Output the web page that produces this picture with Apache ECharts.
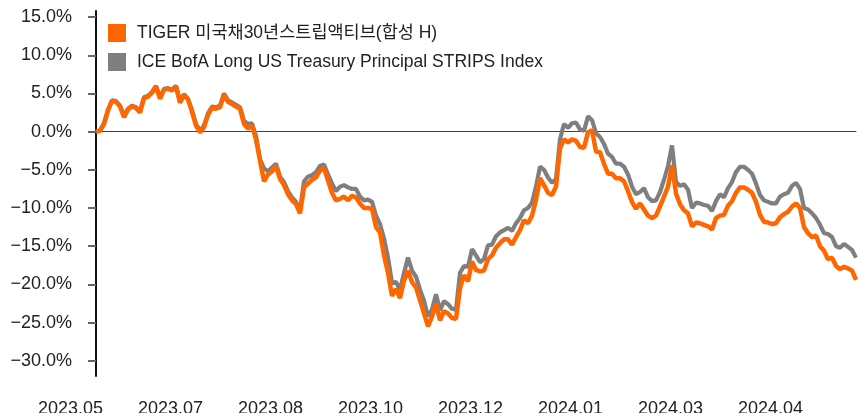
<!DOCTYPE html>
<html><head><meta charset="utf-8">
<script src="https://cdn.jsdelivr.net/npm/echarts@6/dist/echarts.min.js"></script>
<style>html,body{margin:0;padding:0;background:#fff}#c{width:858px;height:413px}</style>
</head><body><div id="c"></div>
<script>
const seriesNames = ['TIGER 미국채30년스트립액티브(합성 H)', 'ICE BofA Long US Treasury Principal STRIPS Index'];
const xTickLabels = ['2023.05','2023.07','2023.08','2023.10','2023.12','2024.01','2024.03','2024.04'];
const yTicks = [-30,-25,-20,-15,-10,-5,0,5,10,15];
const tiger = [0,0.1,1.0,2.8,4.0,3.9,3.3,1.9,2.9,3.3,
3.1,2.5,4.4,4.6,5.1,5.9,4.3,5.5,5.6,5.4,
5.9,3.8,4.8,4.2,2.6,0.8,-0.1,0.6,2.2,3.1,
3.0,3.2,4.8,3.9,3.6,3.3,3.0,1.0,0.4,0.8,
-1.0,-3.8,-6.5,-5.6,-5.2,-4.5,-6.2,-7.0,-8.2,-9.0,
-9.5,-10.7,-7.3,-6.8,-6.3,-6.0,-5.1,-4.8,-6.4,-8.0,
-9.0,-8.8,-8.5,-9.0,-8.4,-8.6,-9.4,-10.0,-10.0,-10.1,
-12.5,-13.2,-16.2,-18.5,-21.5,-20.6,-21.8,-19.5,-18.2,-19.7,
-20.4,-22.1,-23.8,-25.5,-24.2,-22.5,-24.7,-23.5,-23.8,-24.4,
-24.5,-20.5,-18.8,-19.6,-17.0,-18.1,-18.3,-18.2,-16.7,-16.2,
-15.2,-14.6,-14.1,-14.1,-14.8,-13.8,-12.9,-11.6,-12.0,-11.0,
-8.9,-6.1,-7.0,-8.0,-8.3,-7.2,-2.2,-1.0,-1.4,-1.0,
-1.2,-2.0,-2.1,-0.1,0.2,-2.6,-2.7,-4.2,-5.5,-5.5,
-6.1,-6.1,-6.5,-7.8,-9.2,-10.1,-9.4,-10.2,-11.0,-11.3,
-11.0,-9.8,-8.5,-7.2,-4.4,-8.1,-9.5,-10.3,-10.7,-12.4,
-11.9,-12.0,-12.2,-12.4,-12.8,-11.3,-11.0,-10.9,-9.7,-9.1,
-8.0,-7.3,-7.3,-7.6,-8.0,-9.2,-10.9,-11.8,-11.9,-12.1,
-12.0,-11.2,-10.8,-10.5,-9.8,-9.4,-10.0,-12.5,-13.3,-13.8,
-13.6,-15.0,-15.6,-16.7,-16.5,-17.6,-18.0,-17.7,-17.9,-18.2,
-19.4];
const ice = [0.0,0.2,1.1,2.9,4.1,4.0,3.4,2.1,3.0,3.4,
3.2,2.7,4.5,4.7,5.2,6.0,4.5,5.6,5.7,5.5,
6.0,4.0,4.9,4.3,2.8,1.0,0.1,0.8,2.4,3.3,
3.2,3.4,5.0,4.1,3.8,3.5,3.2,1.4,1.0,1.1,
-0.6,-3.6,-4.8,-5.2,-4.7,-4.2,-5.9,-6.6,-7.8,-8.6,
-9.2,-10.3,-6.5,-5.9,-5.7,-5.3,-4.5,-4.3,-5.6,-6.8,
-7.8,-7.2,-7.0,-7.3,-7.5,-7.5,-8.5,-9.0,-8.9,-9.2,
-11.0,-12.1,-14.0,-16.5,-19.8,-19.7,-20.7,-18.5,-16.5,-18.2,
-19.0,-20.7,-22.1,-24.2,-23.3,-21.3,-23.4,-22.2,-22.6,-23.2,
-23.3,-18.5,-17.6,-17.7,-15.4,-16.2,-17.1,-16.7,-14.9,-14.8,
-13.7,-13.2,-12.9,-12.6,-13.0,-12.0,-11.3,-10.3,-10.0,-9.3,
-7.2,-4.6,-5.0,-6.0,-6.7,-6.2,-1.0,1.0,0.5,1.1,
1.2,0.3,0.1,2.0,1.5,-0.2,-0.7,-1.6,-2.9,-3.3,
-4.2,-4.2,-4.6,-5.6,-7.2,-8.2,-7.9,-7.4,-8.6,-9.1,
-9.0,-7.9,-6.3,-4.5,-1.8,-6.6,-7.1,-6.9,-7.6,-10.0,
-9.3,-9.4,-9.6,-9.7,-10.4,-9.1,-8.2,-8.6,-7.4,-6.6,
-5.3,-4.6,-4.6,-5.0,-5.5,-6.8,-8.3,-9.0,-9.2,-9.4,
-9.4,-8.5,-8.2,-8.0,-7.1,-6.7,-7.5,-10.0,-10.2,-10.7,
-11.3,-12.2,-13.3,-13.4,-13.8,-15.0,-15.2,-14.7,-15.1,-15.5,
-16.5];
const days = tiger.map((_, i) => 'D' + i);

const font = '"Liberation Sans", Arial, "Noto Sans CJK KR", sans-serif';
const fmt = v => (v < 0 ? '\u2212' : '') + Math.abs(v).toFixed(1) + '%';

const chart = echarts.init(document.getElementById('c'), null, {renderer: 'canvas'});
chart.setOption({
  animation: false,
  backgroundColor: '#ffffff',
  legend: {
    orient: 'vertical', left: 108, top: 24, padding: 0, itemWidth: 18, itemHeight: 18, itemGap: 11,
    icon: 'rect', data: seriesNames,
    textStyle: {fontFamily: font, fontSize: 17.5, color: '#222', padding: [0, 0, 0, 6]}
  },
  grid: [
    {left: 96, right: 2, top: 11, bottom: 37, outerBoundsMode: 'none', containLabel: false},
    {left: 20.5, right: 37.5, top: 11, bottom: 37, outerBoundsMode: 'none', containLabel: false}
  ],
  xAxis: [
    {type: 'category', gridIndex: 0, data: days, boundaryGap: false,
     axisLine: {onZero: true, lineStyle: {color: '#404040', width: 1}},
     axisTick: {show: false}, axisLabel: {show: false}, splitLine: {show: false}},
    {type: 'category', gridIndex: 1, data: xTickLabels, boundaryGap: true, position: 'bottom',
     axisLine: {show: false}, axisTick: {show: false}, splitLine: {show: false},
     axisLabel: {interval: 0, margin: 24, fontFamily: font, fontSize: 18, color: '#222'}}
  ],
  yAxis: [
    {type: 'value', gridIndex: 0, min: -32, max: 15.8,
     axisLine: {show: true, lineStyle: {color: '#111', width: 2}},
     axisTick: {show: true, length: 8, lineStyle: {color: '#666', width: 2}, customValues: yTicks},
     axisLabel: {margin: 24, fontFamily: font, fontSize: 18, color: '#222', formatter: fmt, customValues: yTicks},
     splitLine: {show: false}},
    {type: 'value', gridIndex: 1, min: 0, max: 1, show: false}
  ],
  series: [
    {name: seriesNames[0], type: 'line', xAxisIndex: 0, yAxisIndex: 0, data: tiger, z: 4,
     symbol: 'none', color: '#FF6600', lineStyle: {color: '#FF6600', width: 4.5}},
    {name: seriesNames[1], type: 'line', xAxisIndex: 0, yAxisIndex: 0, data: ice, z: 3,
     symbol: 'none', color: '#7F7F7F', lineStyle: {color: '#7F7F7F', width: 4.2}}
  ]
});
</script></body></html>
